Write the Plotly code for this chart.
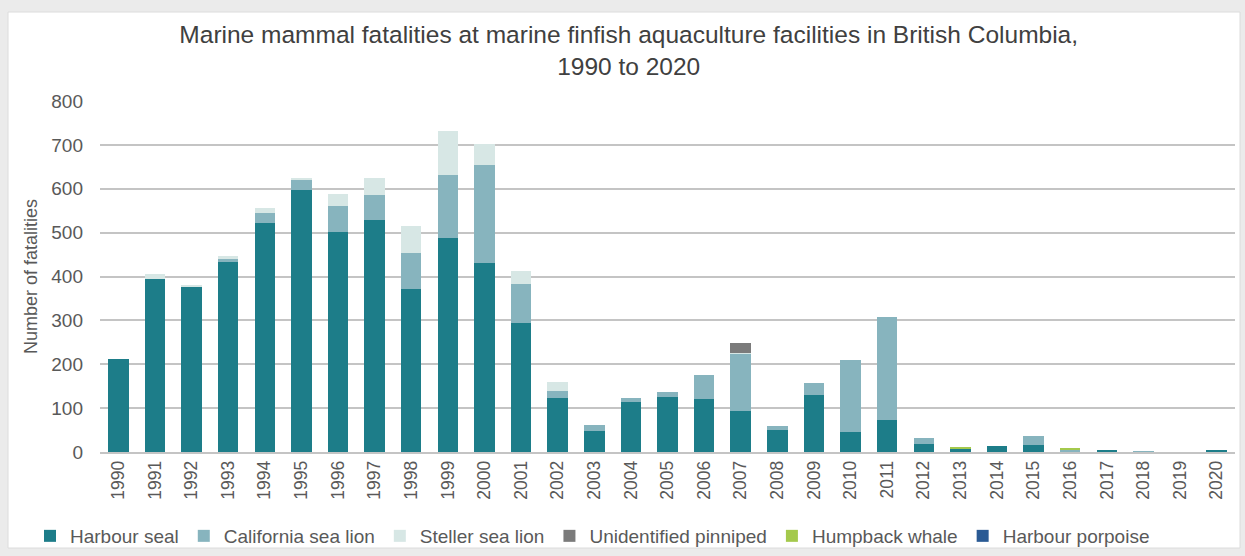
import plotly.graph_objects as go

years = [str(y) for y in range(1990, 2021)]

harbour_seal = [212, 394, 377, 432, 523, 597, 502, 529, 371, 488, 430, 293, 122, 48, 113, 126,
                121, 94, 50, 131, 46, 73, 19, 6, 13, 17, 2, 3, 1, 0, 5]
california_sea_lion = [0, 0, 0, 9, 21, 22, 59, 56, 83, 143, 225, 90, 17, 13, 9, 11,
                       54, 130, 9, 26, 164, 235, 14, 0, 0, 19, 4, 0, 1, 0, 0]
steller_sea_lion = [0, 11, 2, 6, 11, 5, 27, 39, 62, 101, 47, 29, 21, 0, 0, 0,
                    0, 2, 0, 0, 0, 0, 0, 0, 0, 0, 0, 0, 0, 0, 0]
unidentified_pinniped = [0] * 17 + [22] + [0] * 13
humpback_whale = [0] * 23 + [5, 0, 0, 2, 0, 0, 0, 0]
harbour_porpoise = [0] * 31

series = [
    ("Harbour seal", harbour_seal, "#1d7d89"),
    ("California sea lion", california_sea_lion, "#87b4be"),
    ("Steller sea lion", steller_sea_lion, "#d7e7e5"),
    ("Unidentified pinniped", unidentified_pinniped, "#7b7b7b"),
    ("Humpback whale", humpback_whale, "#a4c94c"),
    ("Harbour porpoise", harbour_porpoise, "#2a5a94"),
]

FONT = "Liberation Sans, Arial, sans-serif"
TXT = "#595959"

fig = go.Figure()
for name, vals, col in series:
    fig.add_trace(go.Bar(x=years, y=vals, name=name, marker_color=col,
                         marker_line_width=0))

# plot area spans x 100..1235 px, y 101..452 px
L, R, T, B = 100, 10, 101, 104
W, H = 1245, 556
pw, ph = W - L - R, H - T - B


def px_x(p):
    return (p - L) / pw


def px_y(p):
    return (H - B - p) / ph


fig.add_shape(type="rect", xref="paper", yref="paper",
              x0=px_x(8), x1=px_x(1240), y0=px_y(548), y1=px_y(12),
              fillcolor="white", line=dict(color="#dcdcdc", width=1), layer="below")

fig.update_layout(
    width=W, height=H,
    margin=dict(l=L, r=R, t=T, b=B, autoexpand=False),
    paper_bgcolor="#ebebeb",
    plot_bgcolor="rgba(0,0,0,0)",
    barmode="stack",
    bargap=0.44,
    font=dict(family=FONT, color=TXT),
    title=dict(
        text="Marine mammal fatalities at marine finfish aquaculture facilities in British Columbia,<br>1990 to 2020",
        x=0.505, xref="container", y=1 - 43 / H, yref="container", yanchor="top",
        font=dict(family=FONT, size=24.5, color="#404040"),
    ),
    xaxis=dict(type="category", tickangle=-90, tickfont=dict(size=17.5, color=TXT),
               showgrid=False, showline=True, linecolor="#c4c4c4", linewidth=1.5,
               ticks="", ticklen=0, automargin=False),
    yaxis=dict(range=[0, 800], dtick=100, tickfont=dict(size=19, color=TXT),
               gridcolor="#c4c4c4", gridwidth=1.5, zeroline=False,
               ticks="", ticklabelstandoff=16, automargin=False,
               title=dict(text="Number of fatalities", font=dict(size=18, color=TXT),
                          standoff=8)),
    legend=dict(orientation="h", x=30 / W, xref="container", xanchor="left",
                y=1 - 536 / H, yref="container", yanchor="middle",
                font=dict(size=19, color=TXT),
                traceorder="normal", itemwidth=30, bgcolor="rgba(0,0,0,0)"),
)

fig.write_html("out.html")
